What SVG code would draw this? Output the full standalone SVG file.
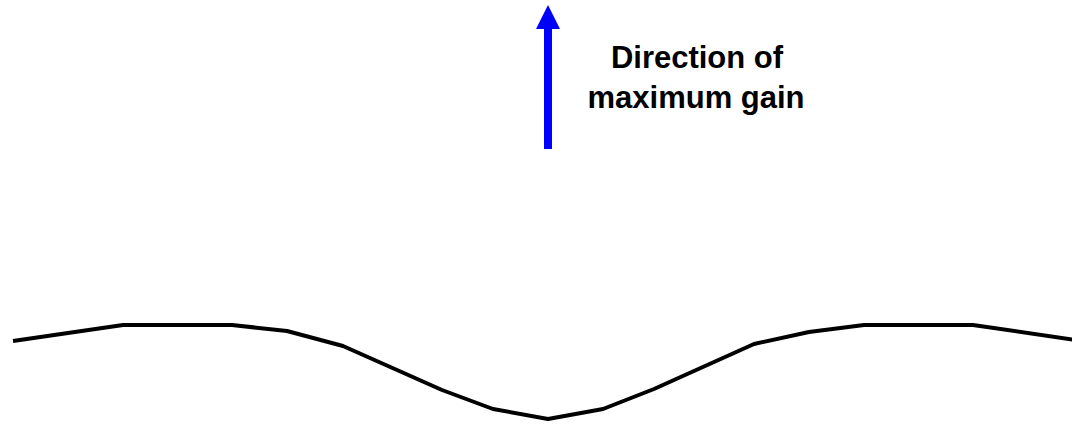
<svg xmlns="http://www.w3.org/2000/svg" width="1072" height="425" viewBox="0 0 1072 425">
<style>
.lbl{font-family:"Liberation Sans",Arial,sans-serif;font-weight:bold;font-size:31px;fill:#000;text-anchor:middle}
.curve{fill:none;stroke:#000;stroke-width:4;stroke-linejoin:round}
</style>
<rect width="1072" height="425" fill="#fff"/>
<g id="pattern">
<polyline class="curve" points="13,341 123,325 232,325 287,331 343,346 442,390 493,409 548,419 603,409 654,389 754,344 809,332 864,325 973,325 1083,341"/>
</g>
<g id="arrow">
<rect x="544" y="28" width="8" height="121" fill="#0000ff"/>
<polygon points="548,5 560,29 536,29" fill="#0000ff"/>
</g>
<g id="label">
<text class="lbl" x="697" y="68">Direction of</text>
<text class="lbl" x="696" y="108">maximum gain</text>
</g>
</svg>
